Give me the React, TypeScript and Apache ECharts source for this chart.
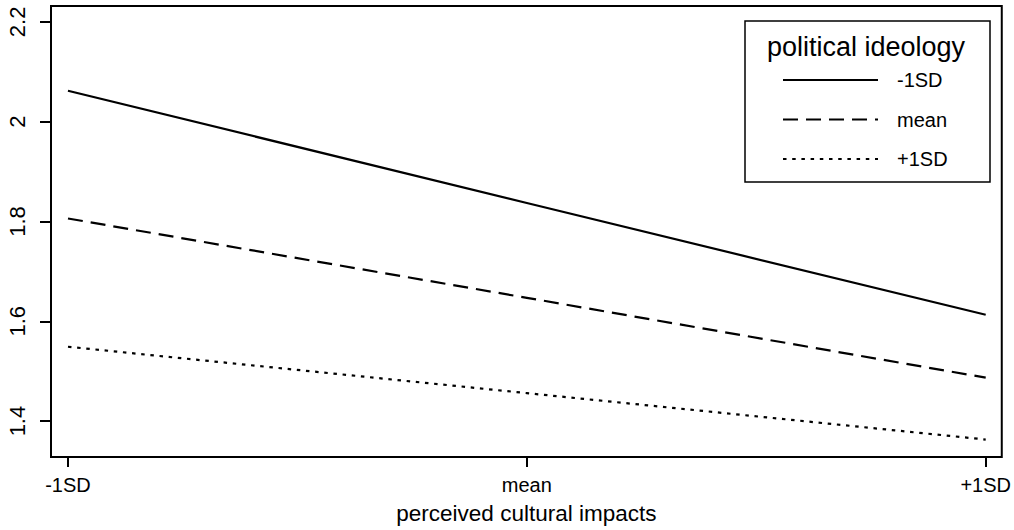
import React, { useEffect, useRef } from "react";
import * as echarts from "echarts";

const xTickValues = [-1, 0, 1];
const xTickLabels = ["-1SD", "mean", "+1SD"];
const yTickValues = [1.4, 1.6, 1.8, 2.0, 2.2];
const seriesNames = ["-1SD", "mean", "+1SD"];
const lowIdeology = [2.062, 1.837, 1.613];
const meanIdeology = [1.806, 1.647, 1.487];
const highIdeology = [1.549, 1.456, 1.363];
const legendTitle = "political ideology";
const xTitle = "perceived cultural impacts";

const FONT = "'Liberation Sans', Arial, Helvetica, sans-serif";

export default function App() {
  const ref = useRef<HTMLDivElement>(null);
  useEffect(() => {
    if (!ref.current) return;
    const chart = echarts.init(ref.current, null, { renderer: "svg" });
    const toPairs = (vals: number[]) => vals.map((v, i) => [xTickValues[i], v]);
    const dashes: any[] = ["solid", [15, 8], [3.5, 5.7]];
    const allVals = [lowIdeology, meanIdeology, highIdeology];
    chart.setOption({
      animation: false,
      backgroundColor: "#fff",
      textStyle: { fontFamily: FONT, color: "#000" },
      grid: {
        left: 51,
        top: 6,
        width: 953,
        height: 454,
        show: true,
        borderColor: "#000",
        borderWidth: 2,
        backgroundColor: "transparent",
      },
      xAxis: {
        type: "value",
        min: -1.037,
        max: 1.035,
        name: xTitle,
        nameLocation: "middle",
        nameGap: 45,
        nameTextStyle: { fontSize: 22.5, color: "#000", fontFamily: FONT },
        splitLine: { show: false },
        axisLine: { show: false, onZero: false },
        axisTick: {
          show: true,
          length: 10,
          customValues: xTickValues,
          lineStyle: { color: "#000", width: 2 },
        },
        axisLabel: {
          customValues: xTickValues,
          margin: 18,
          fontSize: 20,
          color: "#000",
          fontFamily: FONT,
          formatter: (v: number) => xTickLabels[xTickValues.indexOf(Math.round(v))] ?? "",
        },
      },
      yAxis: {
        type: "value",
        min: 1.328,
        max: 2.2318,
        splitLine: { show: false },
        axisLine: { show: false, onZero: false },
        axisTick: {
          show: true,
          length: 11,
          customValues: yTickValues,
          lineStyle: { color: "#000", width: 2 },
        },
        axisLabel: {
          customValues: yTickValues,
          rotate: 90,
          margin: 23,
          fontSize: 22,
          color: "#000",
          fontFamily: FONT,
          formatter: (v: number) => String(Math.round(v * 10) / 10),
        },
      },
      legend: {
        orient: "vertical",
        left: 782,
        top: 70,
        padding: 0,
        itemWidth: 95,
        itemHeight: 20,
        itemGap: 19.5,
        data: seriesNames,
        z: 20,
        itemStyle: { opacity: 0 },
        textStyle: {
          fontSize: 20,
          color: "#000",
          fontFamily: FONT,
          padding: [0, 0, 0, 14],
          lineHeight: 20,
        },
        selectedMode: false,
      },
      graphic: [
        {
          type: "rect",
          shape: { x: 745, y: 21, width: 245, height: 161 },
          style: { fill: "#fff", stroke: "#000", lineWidth: 1.5 },
          z: 3,
        },
        {
          type: "text",
          x: 866,
          y: 47,
          style: {
            text: legendTitle,
            fontSize: 27,
            fontFamily: FONT,
            fill: "#000",
            textAlign: "center",
            textVerticalAlign: "middle",
          },
          z: 21,
        },
      ],
      series: seriesNames.map((name, i) => ({
        name,
        type: "line",
        data: toPairs(allVals[i]),
        symbol: "none",
        z: 2,
        lineStyle: { color: "#000", width: 2.2, type: dashes[i], cap: "butt" },
        itemStyle: { color: "#000" },
      })),
    });
    return () => chart.dispose();
  }, []);
  return (
    <div
      ref={ref}
      style={{ position: "fixed", left: 0, top: 0, width: 1014, height: 530 }}
    />
  );
}
